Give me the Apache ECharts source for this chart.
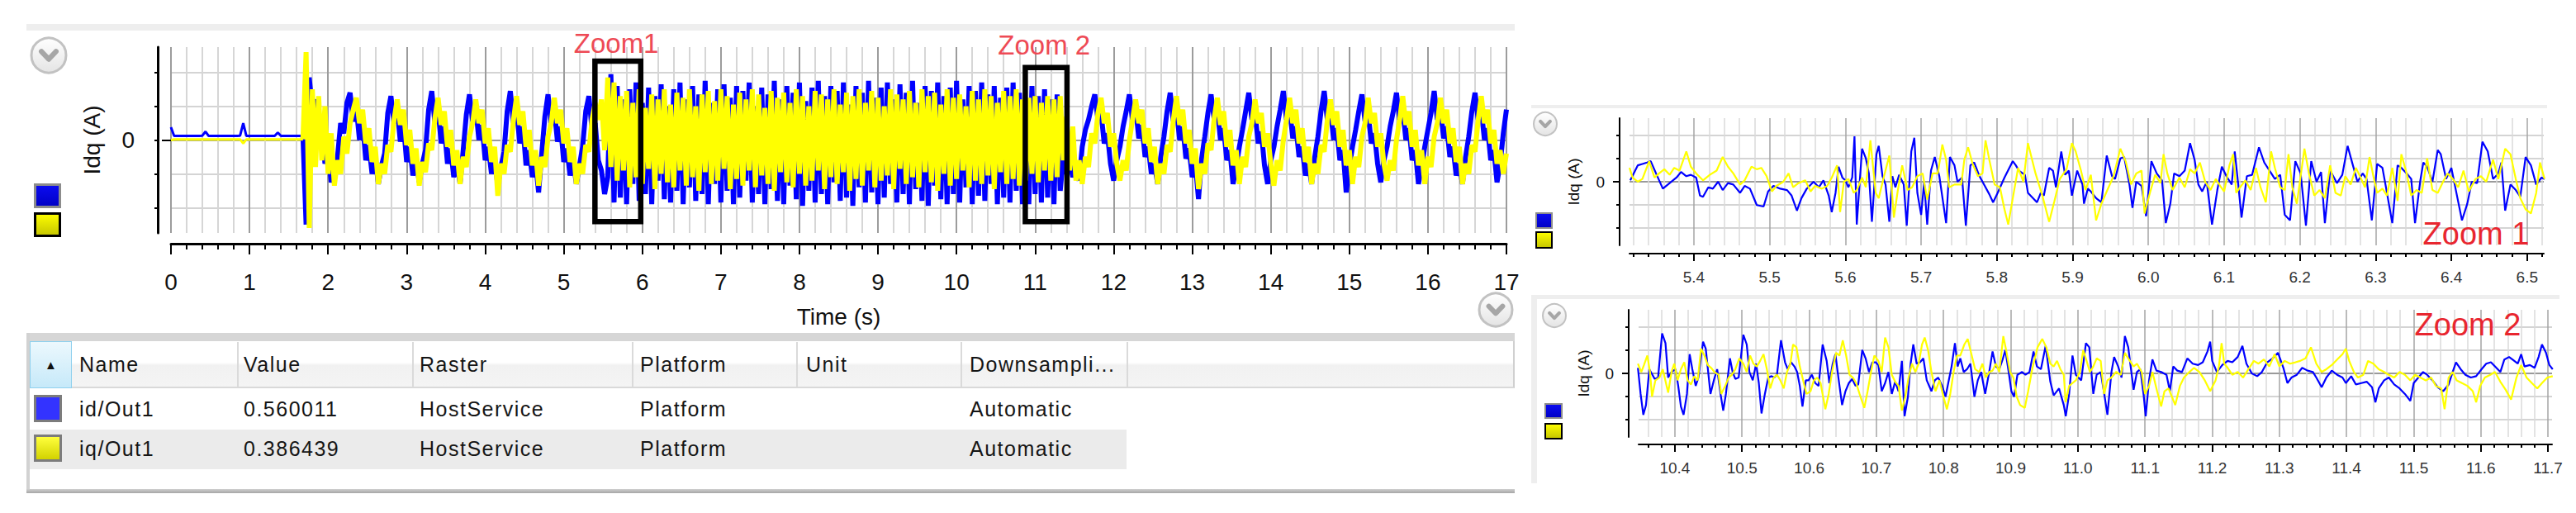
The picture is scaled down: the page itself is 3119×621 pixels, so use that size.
<!DOCTYPE html>
<html>
<head>
<meta charset="utf-8">
<script src="https://cdn.jsdelivr.net/npm/echarts@6/dist/echarts.min.js"></script>
<style>
html,body{margin:0;padding:0;background:#fff;}
#wrap{position:relative;width:3119px;height:621px;overflow:hidden;background:#fff;}
#chart{position:absolute;left:0;top:0;width:3119px;height:621px;}
#table{position:absolute;left:32px;top:403px;width:1802px;height:194px;font-family:"Liberation Sans",Arial,sans-serif;}
#table div{position:absolute;box-sizing:border-box;}
.txt{font-size:25px;letter-spacing:1.5px;color:#151515;white-space:nowrap;height:30px;line-height:30px;}
</style>
</head>
<body>
<div id="wrap"><div id="chart"></div><div id="table"></div></div>
<script>
// ---------------- DATA ----------------
const yAxisName = 'Idq (A)';
const xAxisName = 'Time (s)';
const yTickValues = [-2, -1, 0, 1, 2];
const yLabelValues = [0];
const MAIN_DT = 0.04;      // sample period of the overview traces (s)
const QUIET_SAMPLES = 43;  // samples before the drive starts (t < 1.72 s)

const mainId = [
0.38,0.12,0.12,0.12,0.12,0.12,0.12,0.12,0.12,0.12,
0.13,0.25,0.12,0.12,0.12,0.12,0.12,0.12,0.12,0.12,
0.12,0.12,0.13,0.5,0.12,0.12,0.12,0.12,0.12,0.12,
0.12,0.12,0.12,0.12,0.22,0.12,0.12,0.12,0.12,0.12,
0.12,0.12,0.12,
-2.5,1.85,0.9,1.2,0.0,0.5,-0.7,-0.4,-1.25,-0.9,-0.5,0.5,0.2,1.1,
1.4,0.55,0.95,0.0,0.5,-0.6,-0.15,-1.0,-0.5,-1.3,-0.75,-0.4,0.8,
1.3,0.5,0.9,-0.05,0.45,-0.65,-0.2,-1.05,-0.55,-1.25,-0.7,-0.3,0.9,
1.45,0.5,0.9,-0.1,0.4,-0.7,-0.25,-1.1,-0.6,-1.3,-0.3,0.75,
1.35,0.55,0.95,0.0,0.45,-0.6,-0.2,-1.0,-0.55,-1.35,-0.8,-0.35,0.85,
1.45,0.5,0.9,-0.1,0.4,-0.75,-0.3,-1.1,-0.65,-1.55,-0.4,0.7,
1.35,0.5,0.9,-0.05,0.4,-0.65,-0.25,-1.05,-0.6,-1.3,-0.75,-0.2,0.85,
1.3,0.3,0.5,-0.6,-0.9,-1.6,-1.1,1.95,-1.85,
1.6,-1.7,1.2,-1.9,1.5,-1.3,1.7,-1.8,1.1,-1.6,1.55,-1.9,1.3,-1.2,1.65,-1.75,1.0,-1.85,1.5,-1.5,
1.7,-1.9,1.2,-1.4,1.6,-1.8,1.35,-1.6,1.75,-1.9,1.1,-1.3,1.5,-1.85,1.65,-1.5,1.25,-1.9,1.6,-1.7,
1.45,-1.2,1.7,-1.85,1.0,-1.6,1.55,-1.9,1.35,-1.45,1.75,-1.8,1.2,-1.9,1.6,-1.35,1.4,-1.75,1.7,-1.95,
1.15,-1.5,1.55,-1.85,1.75,-1.6,1.3,-1.9,1.6,-1.25,1.45,-1.8,1.7,-1.7,1.05,-1.95,1.6,-1.4,1.4,-1.85,
1.75,-1.55,1.25,-1.9,1.55,-1.7,1.7,-1.3,1.2,-1.85,1.65,-1.6,1.4,-1.9,1.75,-1.45,1.1,-1.8,1.6,-1.95,
1.45,-1.35,1.7,-1.75,1.3,-1.9,1.55,-1.6,1.75,-1.85,1.2,-1.4,1.6,-1.9,1.45,-1.65,1.7,-1.8,1.35,-1.3,
1.6,-1.9,1.25,-1.7,1.55,-1.85,1.7,-1.5,1.4,-1.9,
1.1,-1.9,1.6,-1.6,1.3,-1.85,1.5,-1.7,1.2,-1.9,1.35,-1.5,-0.5,-1.0,-0.6,-1.1,-0.7,-1.2,-0.2,0.3,0.6,1.0,
1.35,0.6,0.8,-0.1,0.2,-0.7,-1.2,-0.6,-0.2,0.4,0.85,
1.35,0.6,0.95,0.05,0.45,-0.5,-0.2,-1.0,-0.7,-1.3,-0.5,0.1,0.85,
1.4,0.55,0.9,0.0,0.4,-0.55,-0.25,-1.1,-0.7,-1.75,-0.55,0.1,0.8,
1.35,0.6,0.9,0.0,0.35,-0.6,-0.3,-1.3,-0.8,-0.2,0.3,0.85,
1.4,0.6,0.8,-0.1,0.25,-0.75,-1.3,-0.6,-0.2,0.4,0.9,
1.45,0.6,0.95,0.05,0.4,-0.5,-0.2,-1.05,-0.7,-1.3,-0.5,0.1,0.85,
1.45,0.6,0.9,0.0,0.35,-0.6,-0.3,-1.55,-0.8,-0.2,0.3,0.85,
1.35,0.55,0.8,-0.1,0.2,-0.7,-1.25,-0.6,-0.2,0.4,0.85,
1.4,0.6,0.9,0.0,0.35,-0.6,-0.3,-1.3,-0.8,-0.2,0.3,0.8,
1.45,0.6,0.95,0.05,0.4,-0.5,-0.2,-1.05,-0.7,-1.3,-0.5,0.1,0.85,
1.4,0.6,0.9,0.0,0.35,-0.6,-0.3,-1.25,-0.7,0.2,0.9
];

const mainIq = [
0.0,0.02,0.02,0.02,0.02,0.02,0.02,0.02,0.02,0.02,
0.02,0.02,0.02,0.02,0.02,0.02,0.02,0.02,0.02,0.02,
0.02,0.02,0.02,-0.1,0.02,0.02,0.02,0.02,0.02,0.02,
0.02,0.02,0.02,0.02,0.02,0.02,0.02,0.02,0.02,0.02,
0.02,0.02,0.02,
2.6,-2.6,1.5,-0.8,1.3,-0.6,1.0,-1.0,0.2,-1.35,-0.6,-1.0,0.1,-0.4,
0.5,0.9,
1.25,0.5,0.9,-0.1,0.35,-0.65,-0.2,-1.3,-0.7,-1.0,-0.15,-0.35,0.6,
1.2,0.45,0.9,-0.15,0.3,-0.7,-0.25,-1.35,-0.65,-0.95,-0.1,-0.3,0.65,
1.25,0.45,0.85,-0.2,0.3,-0.75,-0.3,-1.3,-0.5,-0.8,0.1,0.5,
1.2,0.5,0.9,-0.1,0.35,-0.65,-0.2,-1.65,-0.7,-1.0,-0.15,-0.35,0.6,
1.3,0.45,0.85,-0.2,0.3,-0.75,-0.3,-1.35,-0.5,-0.8,0.1,0.5,
1.25,0.5,0.9,-0.1,0.35,-0.65,-0.2,-1.3,-0.7,-1.0,-0.15,-0.35,0.6,
1.1,0.6,1.2,-0.3,1.85,-0.8,1.7,
-1.2,1.3,-0.9,1.45,-1.4,1.1,-1.1,1.5,-1.3,0.95,-0.85,1.35,-1.45,1.2,-1.0,1.5,-1.25,1.05,-1.4,1.4,
-0.9,1.25,-1.35,1.5,-1.1,1.0,-1.5,1.35,-0.95,1.45,-1.3,1.15,-1.2,1.5,-0.85,1.3,-1.45,1.05,-1.15,1.4,
-1.35,1.2,-0.9,1.5,-1.4,1.35,-1.05,0.95,-1.3,1.45,-1.5,1.25,-0.95,1.4,-1.25,1.1,-1.4,1.5,-1.0,1.3,
-1.35,1.0,-1.2,1.45,-0.9,1.35,-1.45,1.2,-1.1,1.5,-1.3,1.05,-0.95,1.4,-1.5,1.3,-1.15,1.5,-1.35,1.1,
-0.9,1.45,-1.4,1.25,-1.2,1.0,-1.05,1.5,-1.45,1.35,-0.85,1.2,-1.3,1.45,-1.1,1.1,-1.4,1.5,-0.95,1.3,
-1.25,1.4,-1.5,1.05,-1.0,1.5,-1.35,1.25,-1.15,1.35,-0.9,1.0,-1.4,1.45,-1.2,1.2,-1.3,1.5,-1.05,1.3,
-1.45,1.1,-0.95,1.45,-1.3,1.3,-1.15,1.5,-1.35,1.2,
-1.2,1.25,-1.0,1.3,-1.25,1.1,-0.9,1.3,-1.2,1.2,-1.1,1.3,
-0.6,0.7,-0.9,0.4,-1.2,-0.6,-1.3,-0.5,-0.8,0.2,-0.1,0.8,
1.25,0.5,0.8,-0.2,0.2,-0.7,-1.2,-0.6,-0.9,0.0,0.6,
1.2,0.5,0.9,-0.1,0.35,-0.65,-0.2,-1.3,-0.7,-1.0,-0.15,-0.35,0.6,
1.3,0.45,0.9,-0.1,0.3,-0.7,-0.25,-1.45,-0.7,-1.0,-0.1,-0.3,0.65,
1.25,0.45,0.85,-0.2,0.3,-0.75,-0.3,-1.3,-0.5,-0.8,0.1,0.5,
1.2,0.5,0.8,-0.2,0.2,-0.7,-1.35,-0.6,-0.9,0.0,0.6,
1.25,0.5,0.9,-0.1,0.35,-0.65,-0.2,-1.3,-0.7,-1.0,-0.15,-0.35,0.6,
1.2,0.45,0.85,-0.2,0.3,-0.75,-0.3,-1.3,-0.5,-0.8,0.1,0.5,
1.25,0.5,0.8,-0.2,0.2,-0.7,-1.2,-0.6,-0.9,0.0,0.6,
1.3,0.45,0.85,-0.2,0.3,-0.75,-0.3,-1.3,-0.5,-0.8,0.1,0.5,
1.25,0.5,0.9,-0.1,0.35,-0.65,-0.2,-1.3,-0.7,-1.0,-0.15,-0.35,0.6,
1.3,0.5,0.9,-0.1,0.3,-0.7,-0.3,-1.0,-0.4
];

// zoom-region annotation boxes on the overview: [tStart, tEnd, yBottom, yTop, labelT, labelY]
const zoomBoxes = [[5.397, 5.98, -2.414, 2.335, 5.668, 2.86], [10.875, 11.406, -2.414, 2.145, 11.115, 2.81]];
const zoomBoxLabels = ['Zoom1', 'Zoom 2'];

// Zoom 1 window
const zoom1Range = [5.315, 6.522];
const zoom1Ticks = [5.4, 5.5, 5.6, 5.7, 5.8, 5.9, 6.0, 6.1, 6.2, 6.3, 6.4, 6.5];
const zoom1Id = [[5.316,0.06],[5.326,0.71],[5.332,0.77],[5.338,0.83],[5.343,0.89],[5.35,0.36],[5.359,-0.3],[5.368,-0.06],[5.377,0.18],[5.383,0.42],[5.39,0.24],[5.396,0.3],[5.403,0.18],[5.408,-0.6],[5.412,-0.65],[5.419,-0.24],[5.425,-0.3],[5.432,0],[5.438,-0.36],[5.445,-0.06],[5.452,-0.12],[5.461,-0.48],[5.467,-0.18],[5.474,-0.3],[5.483,-1.01],[5.492,-1.07],[5.498,-0.42],[5.505,-0.18],[5.514,-0.3],[5.523,-0.36],[5.529,-0.6],[5.536,-1.25],[5.542,-0.71],[5.549,-0.3],[5.558,0],[5.565,-0.24],[5.571,0.06],[5.578,-0.6],[5.582,-1.31],[5.587,-0.48],[5.591,0.65],[5.596,0.18],[5.6,0.06],[5.604,-0.24],[5.609,0.18],[5.612,1.96],[5.615,-1.85],[5.622,1.43],[5.627,1.01],[5.631,0.36],[5.635,-1.73],[5.641,1.19],[5.644,1.55],[5.649,0.24],[5.653,-0.12],[5.658,-1.73],[5.662,0.24],[5.666,-0.24],[5.671,0.3],[5.677,-0.12],[5.681,-1.9],[5.687,1.31],[5.691,1.9],[5.695,-0.48],[5.7,-1.43],[5.704,0],[5.708,-1.85],[5.713,0.48],[5.718,1.07],[5.724,0.24],[5.733,-1.79],[5.738,1.07],[5.744,0.71],[5.748,0],[5.754,0.18],[5.759,-1.9],[5.765,0.71],[5.77,0.83],[5.777,0.24],[5.784,-0.18],[5.79,-0.54],[5.795,-0.89],[5.801,-0.48],[5.81,0.18],[5.821,0.89],[5.825,0.71],[5.829,0.48],[5.837,0.3],[5.841,-0.48],[5.853,-0.89],[5.858,-0.48],[5.862,-0.6],[5.869,0.6],[5.874,0.48],[5.878,-0.24],[5.885,1.31],[5.89,0.3],[5.895,0.48],[5.899,-0.6],[5.906,0.48],[5.913,-0.12],[5.915,-0.95],[5.92,-0.3],[5.924,-0.42],[5.931,-0.71],[5.938,-0.89],[5.945,1.13],[5.952,0.24],[5.956,0.12],[5.963,1.01],[5.968,1.07],[5.975,-0.12],[5.979,-1.13],[5.984,0],[5.991,-0.18],[5.997,-1.49],[6.004,0.89],[6.011,0.36],[6.018,0.06],[6.023,-1.79],[6.029,-0.95],[6.034,0.36],[6.041,0.24],[6.048,0.48],[6.055,1.67],[6.061,0.95],[6.066,-0.12],[6.071,-0.42],[6.077,0],[6.084,-1.85],[6.091,-0.36],[6.097,0.65],[6.103,0.24],[6.11,-0.12],[6.114,1.31],[6.119,-0.24],[6.123,-1.55],[6.13,0.24],[6.137,0.3],[6.146,1.49],[6.153,0.83],[6.16,0.48],[6.167,0.12],[6.174,0.3],[6.18,-1.43],[6.187,-1.67],[6.194,0.89],[6.201,0.36],[6.208,-1.9],[6.215,0.89],[6.222,0],[6.228,0.42],[6.233,-1.79],[6.24,0.48],[6.249,-0.06],[6.256,0.3],[6.263,1.55],[6.27,0.71],[6.276,0],[6.283,0.36],[6.288,0.12],[6.295,-1.67],[6.302,0.77],[6.309,0.6],[6.313,-0.12],[6.322,-1.79],[6.329,0.71],[6.334,0.6],[6.341,0.36],[6.347,0.12],[6.352,-1.79],[6.359,0.06],[6.363,0.83],[6.368,0.65],[6.375,0],[6.382,1.37],[6.386,1.19],[6.393,0.12],[6.4,0.6],[6.407,-0.54],[6.414,-1.67],[6.421,-0.95],[6.427,0],[6.434,-0.06],[6.441,1.73],[6.448,1.31],[6.455,0.12],[6.462,0.36],[6.466,0.83],[6.471,-1.25],[6.478,-0.12],[6.485,-0.36],[6.491,-0.65],[6.498,1.07],[6.505,0.71],[6.512,-0.12],[6.519,0.18],[6.523,0.12]];
const zoom1Iq = [[5.315,0.6],[5.319,0.18],[5.326,0],[5.332,0.12],[5.341,0.89],[5.348,0.18],[5.354,0.36],[5.361,0.54],[5.368,0.3],[5.374,0.6],[5.381,0.48],[5.39,1.31],[5.396,0.65],[5.403,0.36],[5.412,0.06],[5.421,0.3],[5.43,0.48],[5.438,1.07],[5.445,0.65],[5.452,0.36],[5.461,-0.12],[5.467,0.06],[5.476,0.65],[5.483,0.54],[5.489,0.6],[5.496,0.24],[5.503,-0.42],[5.509,-0.18],[5.518,0],[5.525,0.36],[5.531,-0.24],[5.538,-0.06],[5.547,0.06],[5.554,-0.42],[5.56,-0.18],[5.569,-0.3],[5.576,-0.18],[5.582,0.18],[5.589,0.71],[5.593,-1.31],[5.598,0],[5.604,0.12],[5.611,-0.48],[5.615,-0.36],[5.622,0.18],[5.627,-0.24],[5.633,1.79],[5.64,-0.48],[5.644,-0.71],[5.651,0.24],[5.658,1.13],[5.664,-1.55],[5.669,-0.42],[5.675,0.71],[5.682,-0.36],[5.688,-0.24],[5.695,0.24],[5.702,0.36],[5.708,-0.77],[5.715,0.36],[5.722,0.36],[5.728,1.61],[5.733,0.95],[5.737,-0.24],[5.744,-0.12],[5.753,-0.12],[5.757,0.95],[5.762,1.49],[5.768,0.77],[5.775,0.24],[5.781,0.36],[5.785,1.79],[5.79,0.95],[5.797,-0.12],[5.804,-0.24],[5.81,-1.19],[5.815,-1.85],[5.821,-0.71],[5.828,0.6],[5.835,0],[5.841,1.67],[5.851,0.36],[5.86,-0.6],[5.869,-1.73],[5.876,-0.83],[5.883,0.12],[5.892,0.54],[5.899,1.67],[5.904,1.31],[5.911,0.48],[5.917,-0.36],[5.924,0.3],[5.931,-1.67],[5.938,-0.95],[5.945,-0.42],[5.954,0.24],[5.963,1.43],[5.97,0.89],[5.977,-0.12],[5.984,0.36],[5.991,0.48],[5.995,-1.37],[6.002,-0.48],[6.009,0.3],[6.016,-0.06],[6.02,1.19],[6.025,0.36],[6.032,-0.36],[6.041,0.18],[6.048,-0.24],[6.055,0.54],[6.061,0.36],[6.068,0.83],[6.075,0],[6.082,-0.36],[6.089,0.12],[6.096,-0.24],[6.1,-0.42],[6.107,0.71],[6.112,1.19],[6.116,-0.48],[6.121,-0.24],[6.128,0.06],[6.135,-0.36],[6.142,0.6],[6.148,-0.24],[6.155,-0.89],[6.162,1.31],[6.167,0.6],[6.174,-0.24],[6.18,-0.36],[6.185,1.19],[6.19,-0.24],[6.196,-0.95],[6.206,1.43],[6.212,0.36],[6.219,-0.6],[6.226,-0.36],[6.233,-0.71],[6.24,0.71],[6.247,-0.48],[6.254,-0.6],[6.26,0.24],[6.267,-0.12],[6.274,0.6],[6.281,0.12],[6.286,-0.24],[6.292,1.07],[6.297,0.24],[6.302,-0.48],[6.309,-0.3],[6.315,-0.6],[6.322,0.6],[6.329,-0.83],[6.334,1.19],[6.341,0.36],[6.347,-0.6],[6.354,-0.36],[6.361,-0.48],[6.368,1.01],[6.375,-0.36],[6.382,-0.48],[6.389,0],[6.395,0.36],[6.402,0.12],[6.409,-0.24],[6.416,0.48],[6.423,-0.42],[6.432,0.12],[6.439,0.24],[6.446,0],[6.455,0.95],[6.462,0.12],[6.471,1.43],[6.478,1.19],[6.485,0.12],[6.491,-0.71],[6.498,-1.19],[6.505,-1.37],[6.512,-0.48],[6.517,0.83],[6.523,0.12]];

// Zoom 2 window
const zoom2Range = [10.346, 11.706];
const zoom2Ticks = [10.4, 10.5, 10.6, 10.7, 10.8, 10.9, 11.0, 11.1, 11.2, 11.3, 11.4, 11.5, 11.6, 11.7];
const zoom2Id = [[10.345,0.24],[10.349,-0.89],[10.353,-1.79],[10.357,-1.37],[10.362,0.18],[10.37,-0.24],[10.375,-0.18],[10.381,1.73],[10.386,1.31],[10.39,-0.18],[10.395,0.06],[10.401,0.18],[10.405,-0.54],[10.409,-1.43],[10.413,-1.79],[10.418,-0.89],[10.422,0.83],[10.426,0.18],[10.431,-0.54],[10.435,-0.18],[10.442,1.37],[10.446,1.07],[10.453,-0.89],[10.458,-0.3],[10.463,0.18],[10.468,-0.89],[10.472,-1.61],[10.476,-0.89],[10.482,0.65],[10.486,0.06],[10.49,-0.24],[10.495,-0.18],[10.502,1.67],[10.507,1.25],[10.511,0.06],[10.516,-0.3],[10.521,0.42],[10.525,-0.42],[10.529,-1.73],[10.534,-0.89],[10.539,-0.18],[10.544,-0.12],[10.548,-0.18],[10.552,-0.06],[10.558,1.43],[10.564,0.48],[10.568,0.18],[10.573,0.48],[10.578,0.3],[10.582,0.06],[10.586,-0.54],[10.59,-1.43],[10.595,-0.3],[10.599,-0.3],[10.604,-0.06],[10.609,-0.42],[10.614,-0.54],[10.62,1.25],[10.626,0.54],[10.63,-0.42],[10.635,0.42],[10.639,0.83],[10.644,-0.3],[10.649,-1.37],[10.654,-0.77],[10.659,-0.42],[10.664,-0.24],[10.669,-0.54],[10.673,-0.48],[10.679,1.01],[10.684,0.65],[10.689,0.06],[10.694,0.48],[10.699,0.48],[10.703,0.36],[10.708,-0.77],[10.713,-0.42],[10.718,0.06],[10.723,-0.89],[10.728,-0.36],[10.733,-0.77],[10.738,0.54],[10.742,-1.85],[10.747,-1.01],[10.751,0.42],[10.755,1.25],[10.76,0.42],[10.765,0.48],[10.77,0.65],[10.775,-0.3],[10.782,-0.77],[10.787,-0.3],[10.792,-0.18],[10.798,-0.54],[10.803,-1.01],[10.807,-0.42],[10.812,0.3],[10.817,1.31],[10.821,0.3],[10.825,0.65],[10.83,0.06],[10.835,0.18],[10.84,0.42],[10.846,-1.01],[10.851,-0.3],[10.856,0.06],[10.862,-0.89],[10.868,0.06],[10.873,0.95],[10.878,0.3],[10.883,0.18],[10.888,0.6],[10.892,1.01],[10.897,0.06],[10.901,-0.77],[10.905,-1.01],[10.91,-0.06],[10.917,0.06],[10.922,-0.06],[10.928,0.06],[10.934,0.95],[10.939,0.3],[10.945,0.18],[10.952,1.19],[10.959,-0.36],[10.964,-0.95],[10.972,-0.65],[10.979,-1.37],[10.982,-1.85],[10.987,-0.89],[10.992,0.77],[10.997,-0.06],[11.005,-0.3],[11.012,1.31],[11.017,1.13],[11.023,-0.89],[11.028,-0.06],[11.034,0.06],[11.039,-0.83],[11.044,-1.79],[11.05,0.06],[11.054,0.71],[11.06,0.3],[11.065,-0.18],[11.07,1.61],[11.075,1.13],[11.083,-0.71],[11.088,0.06],[11.093,0.18],[11.098,-0.95],[11.101,-1.85],[11.106,-0.3],[11.111,0.6],[11.117,0.12],[11.124,0.06],[11.132,-0.06],[11.137,-0.77],[11.142,0.3],[11.148,0.12],[11.155,0.06],[11.163,0.65],[11.171,0.42],[11.179,0.36],[11.186,0.48],[11.193,0.95],[11.197,1.37],[11.2,0.54],[11.207,0.06],[11.215,0.36],[11.223,0.54],[11.23,0.48],[11.238,0.71],[11.245,1.19],[11.251,0.42],[11.259,0],[11.267,-0.12],[11.274,0.06],[11.282,0.48],[11.29,0.65],[11.298,0.89],[11.306,0.24],[11.312,-0.42],[11.318,-0.18],[11.326,-0.06],[11.334,0.24],[11.342,0.12],[11.35,0.06],[11.355,-0.18],[11.363,-0.6],[11.37,-0.18],[11.378,0.12],[11.386,-0.06],[11.394,-0.18],[11.399,-0.42],[11.407,-0.12],[11.414,-0.48],[11.422,-0.42],[11.43,-0.36],[11.438,-0.6],[11.443,-1.25],[11.448,-0.65],[11.456,-0.3],[11.463,-0.18],[11.471,-0.48],[11.479,-0.65],[11.487,-0.89],[11.495,-1.19],[11.5,-0.42],[11.507,-0.18],[11.514,0.06],[11.52,-0.06],[11.528,-0.3],[11.536,-0.6],[11.544,-0.77],[11.552,-0.48],[11.558,0.06],[11.563,0.48],[11.57,0.18],[11.577,-0.06],[11.585,-0.18],[11.593,-0.12],[11.601,0.18],[11.608,0.42],[11.615,0.48],[11.621,0.3],[11.629,0.06],[11.635,0.6],[11.642,0.71],[11.647,0.6],[11.655,0.42],[11.66,0.83],[11.665,0.3],[11.673,0.36],[11.68,0.24],[11.686,0.71],[11.691,1.25],[11.697,0.89],[11.702,0.36],[11.707,0.18]];
const zoom2Iq = [[10.345,0.42],[10.35,0.06],[10.354,0.36],[10.359,0.77],[10.363,0.06],[10.366,-1.01],[10.371,-0.3],[10.377,-0.18],[10.382,0.18],[10.39,-0.83],[10.395,0.06],[10.399,0.42],[10.404,-0.3],[10.409,0.18],[10.414,0.48],[10.419,-0.3],[10.424,-0.48],[10.429,-0.12],[10.434,-0.3],[10.439,1.07],[10.444,0.77],[10.449,0.36],[10.454,0.24],[10.459,0.06],[10.465,-0.06],[10.469,-0.89],[10.475,-0.54],[10.48,-0.18],[10.485,-0.06],[10.49,0.18],[10.496,0.65],[10.502,0.42],[10.507,0.06],[10.512,0.77],[10.517,0.42],[10.522,0.3],[10.527,0.54],[10.532,0.83],[10.537,0.18],[10.542,-0.65],[10.547,-0.18],[10.552,-0.06],[10.557,-0.3],[10.562,-0.65],[10.567,0.06],[10.572,0.42],[10.576,1.25],[10.581,1.13],[10.586,0.3],[10.591,-0.3],[10.596,-0.89],[10.602,-0.77],[10.607,-0.3],[10.612,-0.18],[10.617,-0.42],[10.624,-1.55],[10.629,-0.89],[10.634,0.06],[10.64,0.89],[10.645,0.77],[10.65,1.43],[10.655,0.77],[10.66,-0.06],[10.665,-0.18],[10.67,-0.42],[10.675,-0.89],[10.682,-1.49],[10.687,-0.77],[10.692,0.06],[10.697,0.77],[10.703,0.54],[10.708,0.06],[10.713,1.55],[10.718,1.13],[10.723,-0.06],[10.728,-0.36],[10.733,-0.54],[10.738,-1.61],[10.743,-1.01],[10.748,-0.18],[10.753,0.42],[10.758,0.06],[10.763,0.42],[10.768,1.25],[10.772,1.55],[10.777,1.01],[10.782,0.06],[10.788,-0.77],[10.794,-0.3],[10.801,-1.13],[10.805,-1.55],[10.81,-0.89],[10.815,0.06],[10.82,0.77],[10.825,0.77],[10.831,1.25],[10.836,1.49],[10.841,0.89],[10.847,0.18],[10.853,0.06],[10.858,0.42],[10.863,-0.18],[10.868,0.06],[10.873,0.12],[10.878,0.42],[10.883,0.06],[10.889,1.61],[10.894,0.89],[10.899,0.06],[10.904,-0.18],[10.909,-1.01],[10.914,-1.37],[10.921,-1.49],[10.926,-0.77],[10.932,0.18],[10.94,1.13],[10.947,1.49],[10.953,1.13],[10.959,0.42],[10.964,0.3],[10.969,0.54],[10.974,0.18],[10.979,-0.06],[10.982,-1.25],[10.987,-0.54],[10.992,-0.42],[10.997,-0.3],[11.003,0.06],[11.008,1.01],[11.013,0.54],[11.018,0.06],[11.023,0.3],[11.028,0.65],[11.034,0.54],[11.039,-0.89],[11.044,-0.3],[11.05,-0.18],[11.057,0.06],[11.064,-0.06],[11.07,0.89],[11.075,0.65],[11.083,0.3],[11.088,0.42],[11.095,0.06],[11.1,-0.89],[11.106,-0.54],[11.111,0.06],[11.118,-0.77],[11.124,-1.43],[11.129,-0.77],[11.135,-0.65],[11.14,-1.01],[11.145,-1.37],[11.152,-0.54],[11.158,-0.18],[11.166,0.06],[11.173,0.24],[11.181,0.06],[11.189,-0.3],[11.197,-0.77],[11.205,-0.3],[11.21,0.3],[11.214,1.31],[11.218,0.42],[11.223,0.24],[11.23,-0.06],[11.238,0.06],[11.246,-0.18],[11.254,0.18],[11.262,0.54],[11.269,0.42],[11.277,0.6],[11.285,0.3],[11.293,0.83],[11.3,0.3],[11.308,0.54],[11.316,0.42],[11.324,0.48],[11.331,0.54],[11.339,0.65],[11.347,1.13],[11.355,0.42],[11.363,0.06],[11.37,0.18],[11.378,0.36],[11.386,0.6],[11.394,0.83],[11.399,1.07],[11.404,0.54],[11.411,0.06],[11.417,-0.18],[11.425,-0.06],[11.432,0.54],[11.44,0.42],[11.448,0.18],[11.456,0.06],[11.463,-0.06],[11.471,-0.18],[11.479,0.06],[11.487,-0.06],[11.495,-0.3],[11.502,-0.06],[11.51,-0.18],[11.518,-0.3],[11.526,-0.18],[11.533,-0.54],[11.541,-0.65],[11.546,-1.55],[11.552,-0.18],[11.558,0.06],[11.564,-0.3],[11.572,-0.42],[11.58,-0.54],[11.588,-0.77],[11.593,-1.25],[11.599,-0.54],[11.606,-0.18],[11.614,-0.06],[11.621,0.06],[11.629,-0.36],[11.637,-0.71],[11.645,-1.13],[11.653,-0.18],[11.66,0.36],[11.668,-0.18],[11.676,-0.42],[11.684,-0.65],[11.691,-0.42],[11.699,-0.18],[11.707,-0.12]];

// table
const tableColumns = ['Name', 'Value', 'Raster', 'Platform', 'Unit', 'Downsampli...'];
const signalNames = ['id/Out1', 'iq/Out1'];
const signalValues = ['0.560011', '0.386439'];
const signalRaster = ['HostService', 'HostService'];
const signalPlatform = ['Platform', 'Platform'];
const signalUnit = ['', ''];
const signalDownsampling = ['Automatic', 'Automatic'];

// ---------------- STYLE ----------------
const BLUE = '#0000ff', YELLOW = '#ffff00';
const FONT = '"Liberation Sans", Arial, sans-serif';
const AX = '#000';

function stepValues(a, b, step) {
  const out = [];
  const n = Math.round((b - a) / step);
  for (let i = 0; i <= n; i++) out.push(+(a + i * step).toFixed(4));
  return out;
}
const notMajor = v => Math.abs(v * 10 - Math.round(v * 10)) > 1e-6;
const zoom1Minor = stepValues(5.32, 6.52, 0.02).filter(notMajor);
const zoom2Minor = stepValues(10.36, 11.70, 0.02).filter(notMajor);

const grids = [
  {left: 207, top: 57, width: 1617, height: 225},
  {left: 207, top: 57, width: 1617, height: 225},
  {left: 1973, top: 143, width: 1107, height: 154},
  {left: 1973, top: 143, width: 1107, height: 154},
  {left: 1984, top: 375, width: 1106, height: 154},
  {left: 1984, top: 375, width: 1106, height: 154}
];

const hGridColors = ['#d4d4d4', '#d4d4d4', '#9a9a9a', '#d4d4d4', '#d4d4d4'];

function yMain(grid, offset, lw, labelSize, labelMargin, nameGap, nameSize) {
  return {
    gridIndex: grid, type: 'value', min: -2.75, max: 2.75, position: 'left', offset: offset,
    axisLine: {show: true, onZero: false, lineStyle: {color: AX, width: lw}},
    axisTick: {show: true, customValues: yTickValues, length: 4, lineStyle: {color: AX, width: 2}},
    axisLabel: {show: true, customValues: yLabelValues, fontSize: labelSize, color: '#111', margin: labelMargin, fontFamily: FONT},
    splitLine: {show: true, lineStyle: {color: hGridColors, width: 2}},
    name: yAxisName, nameLocation: 'middle', nameGap: nameGap,
    nameTextStyle: {fontSize: nameSize, color: '#111', fontFamily: FONT}
  };
}
function yZero(grid, offset, len) {
  return {
    gridIndex: grid, type: 'value', min: -2.75, max: 2.75, position: 'left', offset: offset,
    axisLine: {show: false}, axisLabel: {show: false}, splitLine: {show: false},
    axisTick: {show: true, customValues: [0], length: len, lineStyle: {color: AX, width: 2}}
  };
}
function xMajor(grid, range, ticks, offset) {
  return {
    gridIndex: grid, type: 'value', min: range[0], max: range[1], position: 'bottom', offset: offset,
    axisLine: {show: false, onZero: false},
    axisTick: {show: true, customValues: ticks, length: 9, lineStyle: {color: AX, width: 2}},
    axisLabel: {show: true, customValues: ticks, formatter: v => v.toFixed(1), fontSize: 19, color: '#333', margin: 19, fontFamily: FONT},
    splitLine: {show: true, lineStyle: {color: '#a4a4a4', width: 1.5}}
  };
}
function xMinor(grid, range, minor, offset) {
  return {
    gridIndex: grid, type: 'value', min: range[0], max: range[1], position: 'bottom', offset: offset,
    axisLine: {show: true, onZero: false, lineStyle: {color: AX, width: 2}},
    axisTick: {show: true, customValues: minor, length: 4, lineStyle: {color: AX, width: 2}},
    axisLabel: {show: false},
    splitLine: {show: true, lineStyle: {color: '#dadada', width: 1.5}}
  };
}

const xAxes = [
  {
    gridIndex: 0, type: 'value', min: 0, max: 17, interval: 1, position: 'bottom', offset: 13,
    axisLine: {show: true, onZero: false, lineStyle: {color: AX, width: 3}},
    axisTick: {show: true, length: 13, lineStyle: {color: AX, width: 2}},
    minorTick: {show: true, splitNumber: 5, length: 7, lineStyle: {color: AX, width: 2}},
    axisLabel: {fontSize: 28, color: '#111', margin: 32, fontFamily: FONT},
    splitLine: {show: true, lineStyle: {color: '#9c9c9c', width: 2}},
    minorSplitLine: {show: true, lineStyle: {color: '#d6d6d6', width: 2}},
    name: xAxisName, nameLocation: 'middle', nameGap: 74,
    nameTextStyle: {fontSize: 28, color: '#111', fontFamily: FONT}
  },
  {gridIndex: 1, type: 'value', min: 0, max: 17, show: false},
  xMajor(2, zoom1Range, zoom1Ticks, 10),
  xMinor(3, zoom1Range, zoom1Minor, 10),
  xMajor(4, zoom2Range, zoom2Ticks, 9),
  xMinor(5, zoom2Range, zoom2Minor, 9)
];
const yAxes = [
  yMain(0, 16, 3, 28, 28, 66, 28),
  yZero(1, 16, 11),
  yMain(2, 12, 2, 19, 18, 46, 19),
  yZero(3, 12, 8),
  yMain(4, 12, 2, 19, 18, 45, 19),
  yZero(5, 12, 8)
];

const toSeries = (arr, dt, from, to) => arr.slice(from, to).map((v, i) => [+((i + from) * dt).toFixed(3), v]);

function lineSeries(name, data, xi, color, width, z) {
  return {
    name: name, type: 'line', xAxisIndex: xi, yAxisIndex: xi, data: data,
    showSymbol: false, symbol: 'none', animation: false,
    lineStyle: {color: color, width: width, join: 'bevel'}, itemStyle: {color: color}, z: z || 3
  };
}

function lg(c0, c1) {
  return new echarts.graphic.LinearGradient(0, 0, 0, 1, [{offset: 0, color: c0}, {offset: 1, color: c1}]);
}
function dropdown(cx, cy, r) {
  return {
    type: 'group', children: [
      {type: 'circle', shape: {cx: cx, cy: cy, r: r}, style: {fill: lg('#ffffff', '#e4e4e4'), stroke: '#c2c2c2', lineWidth: r > 18 ? 3 : 2}},
      {type: 'polyline', shape: {points: [[cx - r * 0.42, cy - r * 0.22], [cx, cy + r * 0.22], [cx + r * 0.42, cy - r * 0.22]]},
        style: {stroke: '#a6a6a6', lineWidth: r * 0.3, fill: null, lineCap: 'round', lineJoin: 'round'}}
    ]
  };
}
function swatch(x, y, w, h, fill, stroke, lw) {
  return {type: 'rect', shape: {x: x, y: y, width: w, height: h}, style: {fill: fill, stroke: stroke, lineWidth: lw}};
}

const graphics = [
  {type: 'rect', shape: {x: 32, y: 29, width: 1802, height: 8}, style: {fill: '#eeeeee'}},
  {type: 'rect', shape: {x: 1854, y: 127, width: 1230, height: 4}, style: {fill: '#eeeeee'}},
  {type: 'rect', shape: {x: 1854, y: 357, width: 1245, height: 5}, style: {fill: '#eeeeee'}},
  {type: 'rect', shape: {x: 1854, y: 357, width: 7, height: 228}, style: {fill: '#eeeeee'}},
  dropdown(59, 67, 21),
  dropdown(1811, 375, 20),
  dropdown(1871, 150, 14),
  dropdown(1882, 382, 14),
  swatch(42.5, 223.5, 30, 27, lg('#0c0cf2', '#0000c4'), '#8c8c8c', 3),
  swatch(42.5, 258.5, 30, 27, lg('#ffff00', '#c4c400'), '#000', 3),
  swatch(1860, 258, 19, 18, lg('#0c0cf2', '#0000c4'), '#8c8c8c', 2),
  swatch(1860, 281, 19, 19, lg('#ffff00', '#c4c400'), '#000', 2),
  swatch(1871, 489, 20, 17, lg('#0c0cf2', '#0000c4'), '#8c8c8c', 2),
  swatch(1871, 513, 20, 18, lg('#ffff00', '#c4c400'), '#000', 2),
  {type: 'text', style: {text: 'Zoom 1', x: 2998, y: 283, fill: '#e8262f', font: '38px ' + FONT, align: 'center', verticalAlign: 'middle'}, z: 20},
  {type: 'text', style: {text: 'Zoom 2', x: 2988, y: 393, fill: '#e8262f', font: '38px ' + FONT, align: 'center', verticalAlign: 'middle'}, z: 20}
];

const N = mainId.length;
const option = {
  backgroundColor: '#ffffff',
  animation: false,
  grid: grids,
  xAxis: xAxes,
  yAxis: yAxes,
  graphic: graphics,
  series: [
    // quiet part before the drive starts: thin trace
    lineSeries('id/Out1', toSeries(mainId, MAIN_DT, 0, QUIET_SAMPLES), 0, BLUE, 3, 3),
    lineSeries('iq/Out1', toSeries(mainIq, MAIN_DT, 0, QUIET_SAMPLES), 0, YELLOW, 3, 4),
    // noisy part: the heavy ripple renders as a thick band
    lineSeries('id/Out1', toSeries(mainId, MAIN_DT, QUIET_SAMPLES - 1, N), 0, BLUE, 6, 3),
    lineSeries('iq/Out1', toSeries(mainIq, MAIN_DT, QUIET_SAMPLES - 1, N), 0, YELLOW, 6, 4),
    {
      type: 'custom', xAxisIndex: 0, yAxisIndex: 0, data: zoomBoxes, clip: false, z: 10, animation: false,
      renderItem: function (params, api) {
        const p0 = api.coord([api.value(0), api.value(3)]);
        const p1 = api.coord([api.value(1), api.value(2)]);
        const pl = api.coord([api.value(4), api.value(5)]);
        return {
          type: 'group', children: [
            {type: 'rect', shape: {x: p0[0], y: p0[1], width: p1[0] - p0[0], height: p1[1] - p0[1]},
              style: {fill: 'transparent', stroke: '#000', lineWidth: 6.5}},
            {type: 'text', style: {text: zoomBoxLabels[params.dataIndex], x: pl[0], y: pl[1], fill: '#ee4a55',
              font: '33px ' + FONT, align: 'center', verticalAlign: 'middle'}}
          ]
        };
      }
    },
    lineSeries('id/Out1', zoom1Id, 2, BLUE, 2.2),
    lineSeries('iq/Out1', zoom1Iq, 2, YELLOW, 2.2, 4),
    lineSeries('id/Out1', zoom2Id, 4, BLUE, 2.2),
    lineSeries('iq/Out1', zoom2Iq, 4, YELLOW, 2.2, 4)
  ]
};

const chart = echarts.init(document.getElementById('chart'), null, {renderer: 'svg', width: 3119, height: 621});
chart.setOption(option);

// ---------------- TABLE (HTML) ----------------
(function buildTable() {
  const t = document.getElementById('table');
  const add = (style, text, cls) => {
    const d = document.createElement('div');
    if (cls) d.className = cls;
    d.setAttribute('style', style);
    if (text !== undefined) d.textContent = text;
    t.appendChild(d);
    return d;
  };
  add('left:0;top:0;width:1802px;height:10px;background:#d6d6d6;');
  add('left:0;top:0;width:4px;height:194px;background:#d2d2d2;');
  add('left:4px;top:10px;width:1798px;height:57px;background:linear-gradient(to bottom,#ffffff 0%,#ffffff 47%,#f1f1f1 53%,#f4f4f4 100%);border-bottom:2px solid #d9d9d9;border-right:2px solid #d0d0d0;');
  add('left:4px;top:10px;width:51px;height:57px;background:linear-gradient(to bottom,#ecf8fd,#c6e9f9);border:1px solid #8fd0ee;');
  add('left:4px;top:10px;width:51px;height:57px;text-align:center;line-height:57px;font-size:15px;color:#111;', '\u25B2');
  const seps = [255, 467, 733, 932, 1131, 1332];
  seps.forEach(x => add('left:' + x + 'px;top:11px;width:2px;height:55px;background:#dadada;'));
  add('left:4px;top:117px;width:1328px;height:48px;background:#ebebeb;');
  add('left:0;top:189px;width:1802px;height:5px;background:linear-gradient(to bottom,#cfcfcf,#a6a6a6);');
  const textLeft = [64, 263, 476, 743, 944, 1142];
  tableColumns.forEach((c, i) => add('left:' + textLeft[i] + 'px;top:23px;', c, 'txt'));
  const rowsTop = [77, 125];
  const swatchTop = [75, 123];
  const swFill = ['#3333ff', 'linear-gradient(to bottom,#ffff3c,#d2d200)'];
  for (let r = 0; r < signalNames.length; r++) {
    add('left:9px;top:' + swatchTop[r] + 'px;width:34px;height:33px;background:' + swFill[r] + ';border:3px solid #7c7c7c;');
    const cells = [signalNames[r], signalValues[r], signalRaster[r], signalPlatform[r], signalUnit[r], signalDownsampling[r]];
    cells.forEach((c, i) => { if (c) add('left:' + textLeft[i] + 'px;top:' + rowsTop[r] + 'px;', c, 'txt'); });
  }
})();
</script>
</body>
</html>
